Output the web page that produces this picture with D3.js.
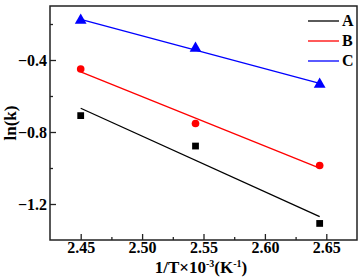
<!DOCTYPE html>
<html>
<head>
<meta charset="utf-8">
<script src="https://cdn.jsdelivr.net/npm/d3@7"></script>
<style>
  body { margin: 0; background: #fff; }
  svg text { font-family: "Liberation Serif", "Times New Roman", serif; font-weight: bold; }
</style>
</head>
<body>
<svg id="chart" width="362" height="280"></svg>
<script>
// 1/T x 10^-3 values
const invT = [2.45, 2.5435, 2.6446]
const seriesNames = ['A', 'B', 'C']
const lnkA = [-0.709, -0.878, -1.308]
const lnkB = [-0.45, -0.753, -0.986]
const lnkC = [-0.18, -0.335, -0.535]
const colors = ['#000000', '#ff0000', '#0000ff']
const symbols = [d3.symbolSquare, d3.symbolCircle, d3.symbolTriangle]
const xTicks = [2.45, 2.50, 2.55, 2.60, 2.65]
const xMinor = [2.475, 2.525, 2.575, 2.625]
const yTicks = [-0.4, -0.8, -1.2]
const yMinor = [-0.2, -0.6, -1.0]

const margin = {top: 6, right: 5, bottom: 40, left: 50}
const width = 362, height = 280
const svg = d3.select('#chart')

const x = d3.scaleLinear().domain([2.425, 2.675]).range([margin.left, width - margin.right])
const y = d3.scaleLinear().domain([-1.4, -0.1]).range([height - margin.bottom, margin.top])

// least squares fit line
function fit(xs, ys) {
  const mx = d3.mean(xs), my = d3.mean(ys)
  const sxy = d3.sum(xs, (d, i) => (d - mx) * (ys[i] - my))
  const sxx = d3.sum(xs, (d) => (d - mx) * (d - mx))
  const slope = sxy / sxx
  const x0 = d3.min(xs), x1 = d3.max(xs)
  return [[x0, my + slope * (x0 - mx)], [x1, my + slope * (x1 - mx)]]
}

const series = [lnkA, lnkB, lnkC]
const line = d3.line().x((d) => x(d[0])).y((d) => y(d[1]))

series.forEach((vals, i) => {
  svg.append('path')
    .attr('d', line(fit(invT, vals)))
    .attr('fill', 'none')
    .attr('stroke', colors[i])
    .attr('stroke-width', 1.3)
  const sizes = [46, 46, 60]
  svg.selectAll('.pt' + i)
    .data(vals)
    .enter()
    .append('path')
    .attr('transform', (d, j) => `translate(${x(invT[j])},${y(d)})`)
    .attr('d', d3.symbol().type(symbols[i]).size(sizes[i]))
    .attr('fill', colors[i])
})

// axes with inward ticks
const gx = svg.append('g').attr('transform', `translate(0,${height - margin.bottom})`)
gx.call(d3.axisTop(x).tickValues(xTicks).tickSize(6).tickFormat(d3.format('.2f')))
gx.append('g').call(d3.axisTop(x).tickValues(xMinor).tickSize(3).tickFormat(''))
gx.selectAll('.domain').remove()
gx.selectAll('text').attr('y', 13).attr('dy', 0).style('font-size', '16px').attr('fill', '#000')

const gy = svg.append('g').attr('transform', `translate(${margin.left},0)`)
gy.call(d3.axisRight(y).tickValues(yTicks).tickSize(6).tickFormat(d3.format('.1f')))
gy.append('g').call(d3.axisRight(y).tickValues(yMinor).tickSize(3).tickFormat(''))
gy.selectAll('.domain').remove()
gy.selectAll('text').attr('x', -3).attr('text-anchor', 'end').style('font-size', '16px').attr('fill', '#000')
svg.selectAll('.tick line').attr('stroke', '#222').attr('stroke-width', 1.3)

// frame
svg.append('rect')
  .attr('x', margin.left).attr('y', margin.top)
  .attr('width', width - margin.left - margin.right)
  .attr('height', height - margin.top - margin.bottom)
  .attr('fill', 'none').attr('stroke', '#222').attr('stroke-width', 1.5)

// axis titles
const xt = svg.append('text')
  .attr('x', 201).attr('y', 273)
  .attr('text-anchor', 'middle')
  .style('font-size', '17px')
xt.append('tspan').text('1/T×10')
xt.append('tspan').attr('dy', -6).style('font-size', '10px').text('-3')
xt.append('tspan').attr('dy', 6).text('(K')
xt.append('tspan').attr('dy', -6).style('font-size', '10px').text('-1')
xt.append('tspan').attr('dy', 6).text(')')

svg.append('text')
  .attr('transform', 'translate(16,123) rotate(-90)')
  .attr('text-anchor', 'middle')
  .style('font-size', '17px')
  .text('ln(k)')

// legend
const lg = svg.append('g')
seriesNames.forEach((name, i) => {
  const ly = 21 + i * 20
  lg.append('line')
    .attr('x1', 308).attr('x2', 339).attr('y1', ly).attr('y2', ly)
    .attr('stroke', colors[i]).attr('stroke-width', 1.3)
  lg.append('text')
    .attr('x', 342).attr('y', ly + 5)
    .style('font-size', '16px')
    .text(name)
})
</script>
</body>
</html>
